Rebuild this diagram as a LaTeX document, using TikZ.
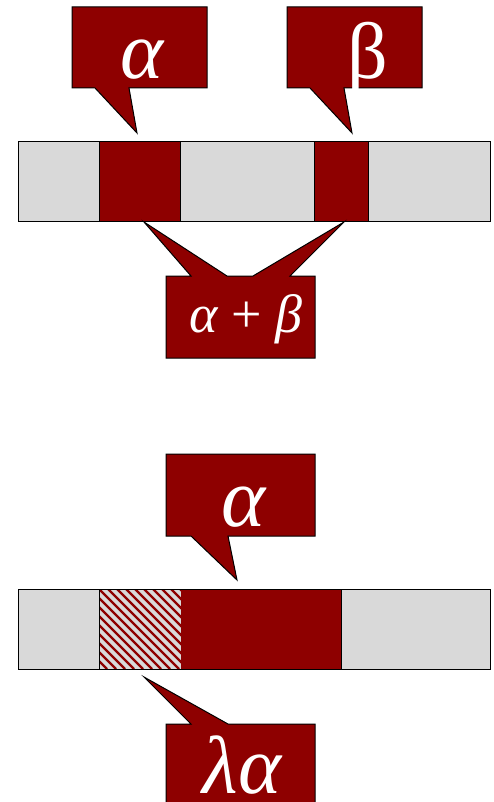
\documentclass[tikz,border=0pt]{standalone}
\usepackage{fontspec}
\setmainfont{Liberation Serif}
\definecolor{dred}{RGB}{142,0,0}
\definecolor{lgray}{RGB}{217,217,217}
\tikzset{
  bubble/.style={fill=dred,draw=black,line width=1pt,line join=miter},
  cellg/.style={fill=lgray,draw=black,line width=1pt},
  cellr/.style={fill=dred,draw=black,line width=1pt},
  lbl/.style={text=white,inner sep=0pt,anchor=base},
  stripe/.style={draw=dred,line width=2.4pt}
}
\begin{document}
\begin{tikzpicture}[x=1pt,y=-1pt]
\useasboundingbox (0,0) rectangle (494,802);
\clip (0,0) rectangle (494,802);
% ---------- top part ----------
\draw[bubble] (72,7) -- (207,7) -- (207,88) -- (129,88) -- (137,133) -- (95,88) -- (72,88) -- cycle;
\draw[bubble] (287,7) -- (422,7) -- (422,88) -- (344,88) -- (352,133) -- (310,88) -- (287,88) -- cycle;
\node[lbl,font=\fontsize{82}{82}\selectfont\itshape] (ta) at (142,79) {α};
\node[lbl,font=\fontsize{80}{80}\selectfont] (tb) at (368,79) {β};
% bar 1
\draw[cellg] (18,142) rectangle (99,222);
\draw[cellr] (99,142) rectangle (180,222);
\draw[cellg] (180,142) rectangle (314,222);
\draw[cellr] (314,142) rectangle (368,222);
\draw[cellg] (368,142) rectangle (490,222);
% sum bubble
\draw[bubble] (166,276) -- (191,276) -- (144,222) -- (227,276) -- (253,276) -- (344,222) -- (290,276) -- (315,276) -- (315,358) -- (166,358) -- cycle;
\node[lbl,font=\fontsize{54}{54}\selectfont] (tab) at (246,332) {\textit{α} + \textit{β}};
% ---------- bottom part ----------
\draw[bubble] (166,454) -- (315,454) -- (315,536) -- (228,536) -- (237,580) -- (191,536) -- (166,536) -- cycle;
\node[lbl,font=\fontsize{84}{84}\selectfont\itshape] (ba) at (244,526) {α};
% bar 2
\draw[cellg] (18,589) rectangle (99,669);
\fill[lgray] (99,589) rectangle (181,669);
\begin{scope}
  \clip (99,589) rectangle (181,669);
  \foreach \s in {-90,-81,...,190} {
    \draw[stripe] (\s,589) -- ++(80,80);
  }
\end{scope}
\fill[dred] (181,589) rectangle (341,669);
\draw[black,line width=1pt] (99,589) rectangle (341,669);
\draw[cellg] (341,589) rectangle (490,669);
% lambda bubble
\draw[bubble] (166,724) -- (191,724) -- (144,677) -- (228,724) -- (315,724) -- (315,812) -- (166,812) -- cycle;
\node[lbl,font=\fontsize{82}{82}\selectfont\itshape] (bla) at (242,793) {λα};
\end{tikzpicture}
\end{document}
